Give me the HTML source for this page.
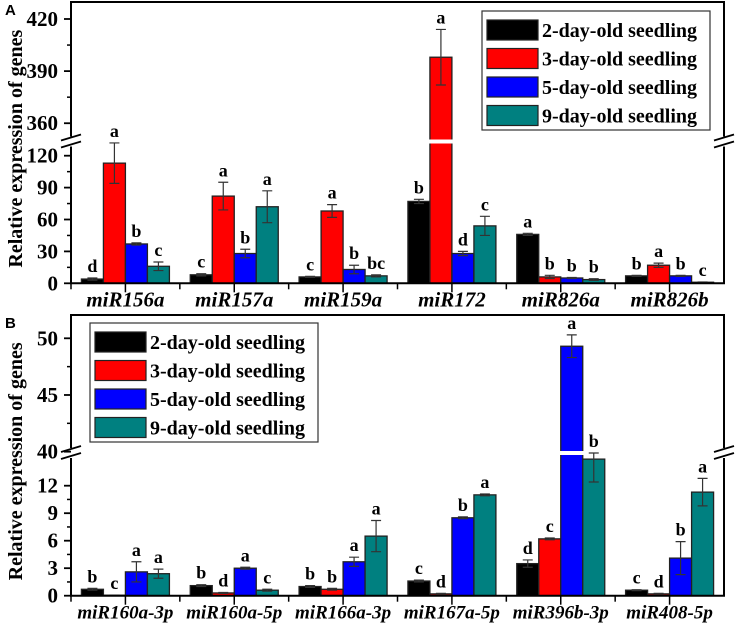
<!DOCTYPE html>
<html><head><meta charset="utf-8"><style>
body{margin:0;background:#fff;width:737px;height:627px;overflow:hidden}
svg{display:block}
</style></head><body>
<svg id="chart" width="737" height="627"></svg>
<script>
const seriesNames=["2-day-old seedling","3-day-old seedling","5-day-old seedling","9-day-old seedling"];
const colors=["#000000","#ff0000","#0000ff","#008080"];
const catsA=["miR156a","miR157a","miR159a","miR172","miR826a","miR826b"];
const valsA=[[4,8,6,77,46,7],[113,82,68,398,6,17],[37,28,13,28,5,7],[16,72,7,54,3.5,1]];
const errA=[[1,1,0.5,2,1,0.5],[19,13,6,16,1.5,2],[1,4,4,2,0.5,0.5],[4,15,1,9,0.8,0.3]];
const letA=[["d","c","c","b","a","b"],["a","a","a","a","b","a"],["b","b","b","d","b","b"],["c","a","bc","c","b","c"]];
const catsB=["miR160a-3p","miR160a-5p","miR166a-3p","miR167a-5p","miR396b-3p","miR408-5p"];
const valsB=[[0.7,1.1,1.0,1.6,3.5,0.6],[0.05,0.3,0.7,0.2,6.2,0.2],[2.6,3.0,3.7,8.5,49.3,4.1],[2.4,0.6,6.5,11.0,14.9,11.3]];
const errB=[[0.1,0.1,0.1,0.1,0.4,0.05],[0.02,0.05,0.1,0.05,0.1,0.05],[1.1,0.1,0.5,0.1,1.0,1.8],[0.5,0.1,1.7,0.1,2.5,1.5]];
const letB=[["b","b","b","c","d","c"],["c","d","b","d","c","d"],["a","a","a","b","a","b"],["a","c","a","a","b","a"]];
const ticksAlow=[0,30,60,90,120], ticksAup=[360,390,420];
const ticksBlow=[0,3,6,9,12], ticksBup=[40,45,50];

const svg=document.getElementById('chart');
const NS="http://www.w3.org/2000/svg";
const SERIF='"Liberation Serif", "DejaVu Serif", serif';
function mk(tag,attrs,parent){const e=document.createElementNS(NS,tag);for(const k in attrs)e.setAttribute(k,attrs[k]);(parent||svg).appendChild(e);return e;}
function txt(attrs,parent){attrs['font-family']=attrs['font-family']||SERIF;attrs['font-weight']='bold';attrs.fill='#000';return mk('text',attrs,parent);}

function panel(cfg){
  const g=mk('g',{});
  
  
  const X0=71,X1=724,cw=(X1-X0)/6,bw=22;
  function y(v){
    if(v<=cfg.lowMax) return cfg.y0-(v/cfg.lowTop)*(cfg.y0-cfg.yLowTop);
    if(v<cfg.upBot) return cfg.brk;
    return cfg.yUpBot-(v-cfg.upBot)/(cfg.upTop-cfg.upBot)*(cfg.yUpBot-cfg.yUpTop);
  }
  for(let s=0;s<4;s++){
    for(let c=0;c<6;c++){
      const v=cfg.vals[s][c],e=cfg.err[s][c];
      const cx=X0+cw*(c+0.5), bx=cx-2*bw+s*bw;
      const top=y(v);
      const r=mk('rect',{x:bx,y:top,width:bw,height:cfg.y0-top,fill:colors[s],stroke:'#222','stroke-width':1.3},g);
      
      
      if(v>=cfg.upBot){
        const gap=mk('rect',{x:bx-1,y:cfg.brk-2,width:bw+2,height:4,fill:'#fff'},g);
        
        
      }
      const yt=y(v+e), yb=y(Math.max(0,v-e)), ex=bx+bw/2;
      const eb=mk('path',{d:`M${ex},${yt}V${yb}M${ex-5},${yt}H${ex+5}M${ex-5},${yb}H${ex+5}`,stroke:'#333','stroke-width':1.2,fill:'none'},g);
      
      
      let ly=Math.min(yt,top)-6;
      if(v>cfg.lowMax&&v<cfg.upBot) ly=cfg.brk-24;
      const lt=txt({x:ex,y:ly,'text-anchor':'middle','font-size':18},g);
      lt.textContent=cfg.lets[s][c];
      
      
    }
  }
  const fr=mk('path',{d:`M${X0},${cfg.yTop}H${X1}V${cfg.y0}H${X0}Z`,fill:'none',stroke:'#000','stroke-width':2},g);
  
  
  [X0,X1].forEach(bx=>{
    const w=mk('rect',{x:bx-3,y:cfg.brk-5,width:6,height:10,fill:'#fff'},g);
    
    
    const b=mk('path',{d:`M${bx-10},${cfg.brk-1}L${bx+10},${cfg.brk-7}M${bx-10},${cfg.brk+6}L${bx+10},${cfg.brk}`,stroke:'#000','stroke-width':1.8},g);
    
    
  });
  function ticks(arr,minStep){
    arr.forEach((t,i)=>{
      const ty=y(t);
      mk('line',{x1:X0-7,x2:X0,y1:ty,y2:ty,stroke:'#000','stroke-width':1.8},g);
      const tl=txt({x:X0-13,y:ty+7,'text-anchor':'end','font-size':21},g);
      tl.textContent=t;
      
      
      if(i<arr.length-1){const my=y(t+minStep);mk('line',{x1:X0-4,x2:X0,y1:my,y2:my,stroke:'#000','stroke-width':1.5},g);}
    });
  }
  ticks(cfg.tlow,(cfg.tlow[1]-cfg.tlow[0])/2);
  ticks(cfg.tup,(cfg.tup[1]-cfg.tup[0])/2);
  for(let c=0;c<6;c++){
    const sx=X0+cw*c;
    mk('line',{x1:sx,x2:sx,y1:cfg.y0,y2:cfg.y0+6,stroke:'#000','stroke-width':1.5},g);
  }
  for(let c=0;c<6;c++){
    const cx=X0+cw*(c+0.5);
    mk('line',{x1:cx,x2:cx,y1:cfg.y0,y2:cfg.y0+9,stroke:'#000','stroke-width':1.5},g);
    const xl=txt({x:cx,y:cfg.y0+23,'text-anchor':'middle','font-size':cfg.xfs,'font-style':'italic'},g);
    xl.textContent=cfg.cats[c];
    
    
  }
  const yt=txt({x:0,y:0,'text-anchor':'middle','font-size':20,transform:`translate(22,${(cfg.yTop+cfg.y0)/2+6}) rotate(-90)`},g);
  yt.textContent='Relative expression of genes';
  
  
  const pl=txt({x:5,y:cfg.yTop+13,'font-size':15,'font-family':'"Liberation Sans", sans-serif'},g);
  pl.textContent=cfg.letter;
  
  
  const lg=mk('g',{},g);
  
  
  mk('rect',{x:cfg.lx,y:cfg.ly,width:228,height:119,fill:'#fff',stroke:'#333','stroke-width':1.2},lg);
  for(let s=0;s<4;s++){
    const ry=cfg.ly+9+s*28.5;
    const sw=mk('rect',{x:cfg.lx+5,y:ry,width:51,height:20,fill:colors[s],stroke:'#222','stroke-width':1.2},lg);
    
    
    const tx=txt({x:cfg.lx+60,y:ry+17,'font-size':20},lg);
    tx.textContent=seriesNames[s];
    
    
  }
}
panel({name:'panel-a',letter:'A',cats:catsA,vals:valsA,err:errA,lets:letA,xfs:21,yTop:2,y0:283.3,yLowTop:155.7,lowTop:120,lowMax:133,brk:141.5,upBot:350,upTop:420,yUpBot:140.6,yUpTop:19,tlow:ticksAlow,tup:ticksAup,lx:482,ly:11});
panel({name:'panel-b',letter:'B',cats:catsB,vals:valsB,err:errB,lets:letB,xfs:19,yTop:315,y0:595.7,yLowTop:485.7,lowTop:12,lowMax:15.5,brk:453,upBot:39.9,upTop:50,yUpBot:452.8,yUpTop:338.3,tlow:ticksBlow,tup:ticksBup,lx:90,ly:323});
</script>
</body></html>
